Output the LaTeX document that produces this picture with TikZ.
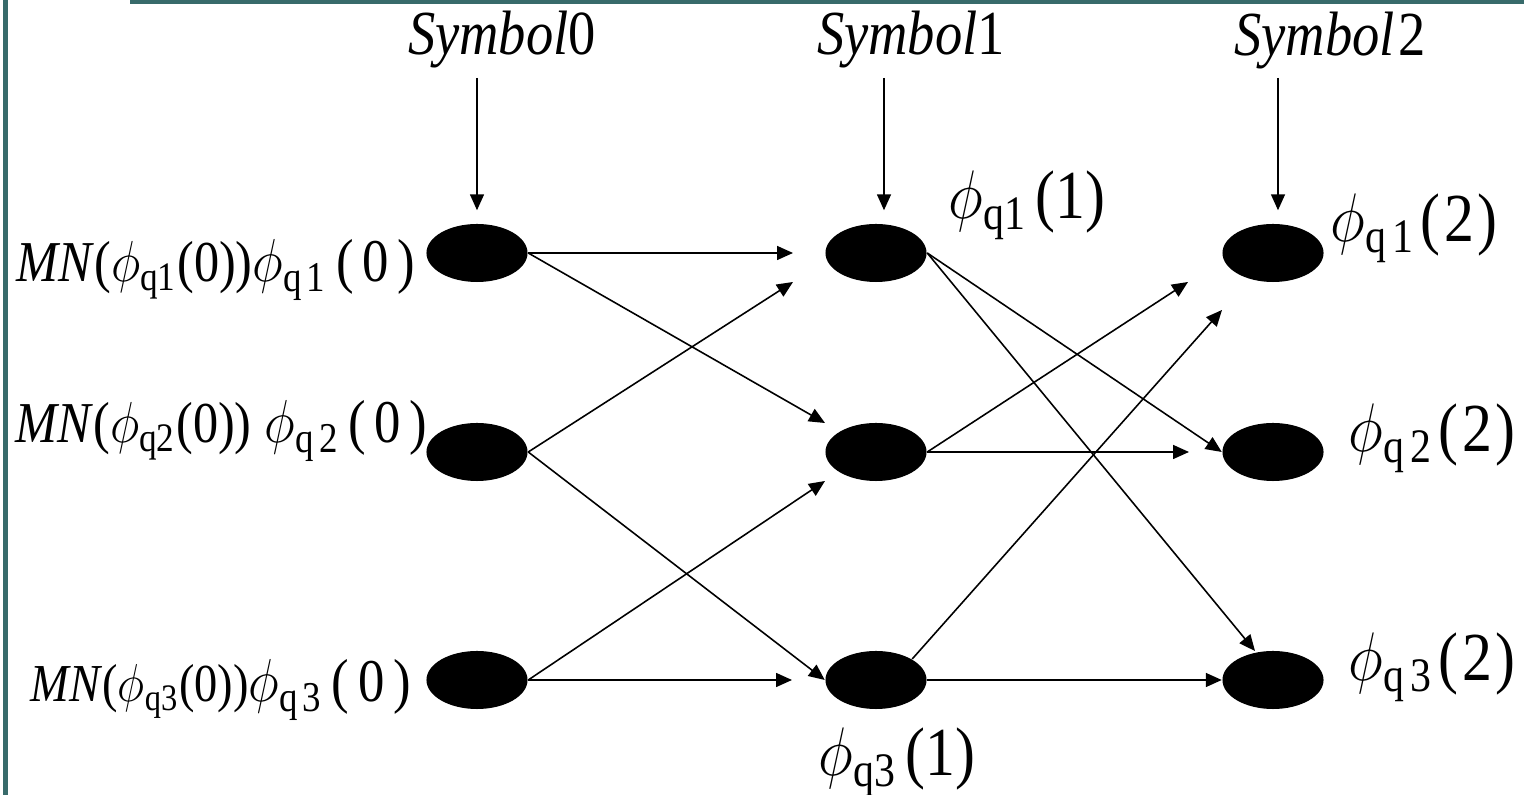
\RequirePackage{fix-cm}
\documentclass[tikz,border=0pt]{standalone}
\usepackage{fontspec}
\setmainfont{Liberation Serif}
\usepackage{graphicx}
\usepackage{tikz}
\usetikzlibrary{positioning,shapes.geometric,arrows.meta}
\definecolor{FrameTeal}{HTML}{386B6B}
\tikzset{
  stnode/.style={ellipse,fill=black,minimum width=1.01cm,minimum height=0.58cm,
    inner sep=0pt},
  symlbl/.style={anchor=base,inner sep=0pt,font=\fontsize{15.5}{18}\selectfont},
  mnlbl/.style={anchor=base west,inner sep=0pt,font=\fontsize{15}{18}\selectfont},
  phlbl/.style={anchor=base west,inner sep=0pt,font=\fontsize{17}{21}\selectfont},
  linkA/.style={line width=0.45pt,-{Triangle[length=0.16cm,width=0.14cm]}},
  feedA/.style={linkA,shorten >=0.13cm},
}
\newcommand{\tall}[1]{\scalebox{1}[1.15]{#1}}
\newcommand{\mn}[2]{{\fontsize{#2}{18}\selectfont\textit{MN}($\phi_{\mathrm{q#1}}$(0))}}
\newcommand{\phq}[1]{$\phi_{\mathrm{q\kern0.1em#1}}$}
\newcommand{\pare}[1]{(\kern0.06em#1\kern0.06em)}

\begin{document}
\begin{tikzpicture}[x=0.01cm,y=-0.01cm]
  \useasboundingbox (0,0) rectangle (1524,795);
  \fill[FrameTeal] (3,0) rectangle (8,795);
  \fill[FrameTeal] (130,0) rectangle (1524,4);
  % symbol labels
  \node[symlbl] (sym0) at (502,55) {\tall{\textit{Symbol}0}};
  \node[symlbl] (sym1) at (911,55) {\tall{\textit{Symbol}1}};
  \node[symlbl] (sym2) at (1330,56) {\tall{\textit{Symbol}\kern1pt2}};
  \coordinate (t0) at (477,78);
  \coordinate (t1) at (884,78);
  \coordinate (t2) at (1278,78);
  % state labels
  \node[mnlbl] (la1) at (16,282) {\tall{\mn{1}{14.3}\phq{1}\,(\,0\,)}};
  \node[mnlbl] (la2) at (15,443) {\tall{\mn{2}{14.3}\ \phq{2}\,(\,0\,)}};
  \node[mnlbl] (la3) at (30,702) {\tall{\mn{3}{13.2}\phq{3}\,(\,0\,)}};
  \node[phlbl] (lb1) at (948,219) {\tall{$\phi_{\mathrm{q1}}$\kern0.15em(1)}};
  \node[phlbl] (lb3) at (818,776) {\tall{$\phi_{\mathrm{q3}}$\kern0.15em(1)}};
  \node[phlbl] (lc1) at (1330,242) {\tall{\phq{1}\kern0.1em\pare{2}}};
  \node[phlbl] (lc2) at (1348,452) {\tall{\phq{2}\kern0.1em\pare{2}}};
  \node[phlbl] (lc3) at (1348,681) {\tall{\phq{3}\kern0.1em\pare{2}}};
  % states
  \node[stnode] (a1) at (477,253) {};
  \node[stnode] (a2) at (477,452) {};
  \node[stnode] (a3) at (477,680) {};
  \node[stnode] (b1) at (876,253) {};
  \node[stnode] (b2) at (876,452) {};
  \node[stnode] (b3) at (876,680) {};
  \node[stnode] (c1) at (1273,253) {};
  \node[stnode] (c2) at (1273,452) {};
  \node[stnode] (c3) at (1273,680) {};
  % symbol inputs
  \draw[feedA] (t0) -- (t0 |- a1.north);
  \draw[feedA] (t1) -- (t1 |- b1.north);
  \draw[feedA] (t2) -- (t2 |- c1.north);
  % transitions 0 -> 1
  \draw[linkA] (a1.east) -- ([shift={(-83,0)}]b1.center);
  \draw[linkA] (a1.east) -- ([shift={(-51,-29)}]b2.center);
  \draw[linkA] (a2.east) -- ([shift={(-83,29)}]b1.center);
  \draw[linkA] (a2.east) -- (b3.west);
  \draw[linkA] (a3.east) -- ([shift={(-84,0)}]b3.center);
  \draw[linkA] (a3.east) -- ([shift={(-51,29)}]b2.center);
  % transitions 1 -> 2
  \draw[linkA] (b1.east) -- (c2.west);
  \draw[linkA] (b1.east) -- ([shift={(-18,-29)}]c3.center);
  \draw[linkA] (b2.east) -- ([shift={(-85,29)}]c1.center);
  \draw[linkA] (b2.east) -- ([shift={(-84,0)}]c2.center);
  \draw[linkA] (b3.north east) -- ([shift={(-51,57)}]c1.center);
  \draw[linkA] (b3.east) -- (c3.west);
\end{tikzpicture}
\end{document}
